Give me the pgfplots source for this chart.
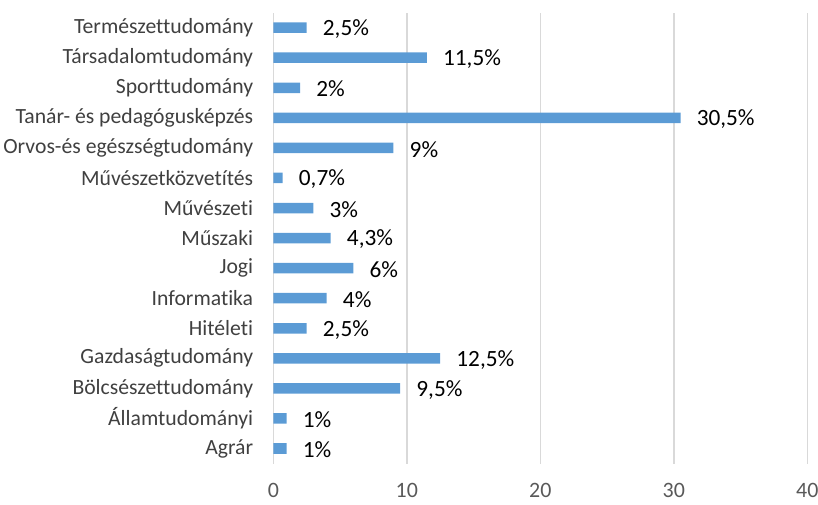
\documentclass[border=0pt]{standalone}
\usepackage{fontspec}
\setmainfont{Carlito}[Ligatures=NoCommon]
\usepackage{pgfplots}
\pgfplotsset{compat=1.18}
\definecolor{barblue}{HTML}{5B9BD5}
\definecolor{gridc}{HTML}{D9D9D9}
\definecolor{labc}{HTML}{404040}
\definecolor{tickc}{HTML}{595959}

\begin{document}
\begin{tikzpicture}
  \begin{axis}[
      at={(205.5pt,31pt)}, anchor=south west,
      scale only axis, width=401.5pt, height=339pt,
      xbar, bar width=7.9pt,
      xmin=0, xmax=40, ymin=-0.5, ymax=14.5,
      xtick={0,10,20,30,40},
      ytick={0,...,14},
      yticklabels={Agrár, Államtudományi, Bölcsészettudomány, Gazdaságtudomány, Hitéleti,
        Informatika, Jogi, Műszaki, Művészeti, Művészetközvetítés,
        Orvos-és egészségtudomány, Tanár- és pedagógusképzés, Sporttudomány,
        Társadalomtudomány, Természettudomány},
      axis line style={draw=none},
      major tick length=0pt,
      xmajorgrids, grid style={gridc, line width=1.1pt},
      /pgf/number format/assume math mode=true,
      xticklabel style={font=\fontsize{16.5}{19}\selectfont, text=tickc, yshift=-11pt},
      yticklabel style={font=\fontsize{16.3}{19}\selectfont, text=labc, anchor=east, inner sep=0pt, xshift=-15pt},
      nodes near coords={\pgfmathprintnumber[use comma]{\pgfplotspointmeta}\%},
      every node near coord/.append style={font=\fontsize{17.5}{20}\selectfont, text=black, anchor=west, inner sep=0pt, xshift=12pt, yshift=-1pt},
    ]
    \addplot[fill=barblue, draw=none] coordinates {
      (1,0) (1,1) (9.5,2) (12.5,3) (2.5,4) (4,5) (6,6) (4.3,7) (3,8) (0.7,9)
      (9,10) (30.5,11) (2,12) (11.5,13) (2.5,14)};
  \end{axis}
  \pgfresetboundingbox
  \path[use as bounding box] (0,0) rectangle (615pt,379.5pt);
\end{tikzpicture}
\end{document}
